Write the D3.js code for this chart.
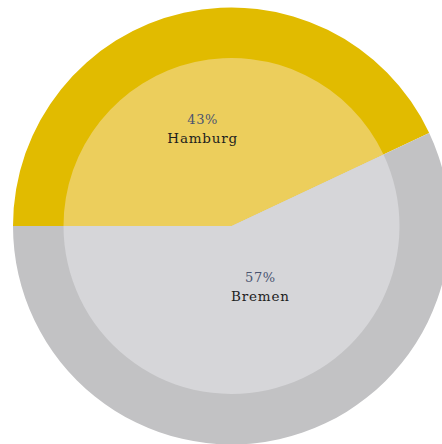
<!DOCTYPE html>
<html>
<head>
<meta charset="utf-8">
<script src="https://cdn.jsdelivr.net/npm/d3@7"></script>
<style>
  html, body { margin: 0; padding: 0; background: #ffffff; }
  svg { display: block; }
</style>
</head>
<body>
<div id="chart"></div>
<script>
// Share of respondents by city
const cities = ["Hamburg", "Bremen"];
const shares = [43, 57];
const outerColors = ["#e1bb00", "#c2c2c4"];
const innerColors = ["#ecce5c", "#d6d6d9"];

const width = 442, height = 444;
const cx = 231.5, cy = 226;
const outerR = 218.5, innerR = 168;
const labelTurn = -7.5 * Math.PI / 180;

const data = cities.map((c, i) => ({ city: c, share: shares[i], i }));

const pie = d3.pie()
  .value(d => d.share)
  .sort(null)
  .startAngle(-Math.PI / 2)
  .endAngle(1.5 * Math.PI);

const arcs = pie(data);

const svg = d3.select("#chart").append("svg")
  .attr("width", width)
  .attr("height", height);

const g = svg.append("g").attr("transform", `translate(${cx},${cy})`);

const outerArc = d3.arc().innerRadius(0).outerRadius(outerR);
const innerArc = d3.arc().innerRadius(0).outerRadius(innerR);

g.selectAll("path.outer")
  .data(arcs)
  .join("path")
  .attr("class", "outer")
  .attr("d", outerArc)
  .attr("fill", d => outerColors[d.data.i]);

g.selectAll("path.inner")
  .data(arcs)
  .join("path")
  .attr("class", "inner")
  .attr("d", innerArc)
  .attr("fill", d => innerColors[d.data.i]);

// labels sit halfway out along the inner disc
const labelR = innerR / 2;
const labels = g.selectAll("g.label")
  .data(arcs)
  .join("g")
  .attr("class", "label")
  .attr("transform", d => {
    const a = (d.startAngle + d.endAngle) / 2 + labelTurn;
    return `translate(${labelR * Math.sin(a)},${-labelR * Math.cos(a)})`;
  })
  .style("font-family", "'DejaVu Serif', serif")
  .attr("text-anchor", "middle");

labels.append("text")
  .attr("y", -23)
  .style("font-size", "13px")
  .style("letter-spacing", "0.6px")
  .attr("fill", "#4a5470")
  .text(d => d.data.share + "%");

labels.append("text")
  .attr("y", -4)
  .style("font-size", "13.5px")
  .style("letter-spacing", "0.8px")
  .attr("fill", "#1e1e1e")
  .text(d => d.data.city);
</script>
</body>
</html>
